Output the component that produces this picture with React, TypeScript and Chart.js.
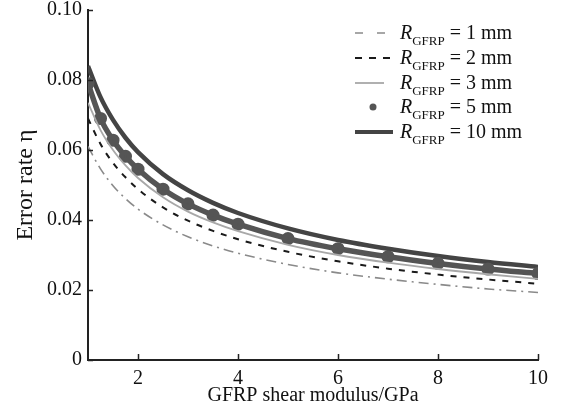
import React, { useEffect, useRef } from 'react';
import { Chart, registerables } from 'chart.js';

Chart.register(...registerables);

// GFRP shear modulus (GPa)
const shearModulus = [1, 1.25, 1.5, 1.75, 2, 2.5, 3, 3.5, 4, 5, 6, 7, 8, 9, 10];
// Error rate η for each GFRP radius
const eta1mm = [0.061, 0.0546, 0.0498, 0.0461, 0.0431, 0.0386, 0.0352, 0.0326, 0.0305, 0.0273, 0.0249, 0.0231, 0.0216, 0.0203, 0.0193];
const eta2mm = [0.069, 0.0617, 0.0563, 0.0522, 0.0488, 0.0436, 0.0398, 0.0369, 0.0345, 0.0309, 0.0282, 0.0261, 0.0244, 0.023, 0.0218];
const eta3mm = [0.0735, 0.0657, 0.06, 0.0556, 0.052, 0.0465, 0.0424, 0.0393, 0.0368, 0.0329, 0.03, 0.0278, 0.026, 0.0245, 0.0232];
const eta5mm = [0.079, 0.069, 0.0628, 0.0582, 0.0545, 0.0488, 0.0446, 0.0414, 0.0388, 0.0347, 0.0318, 0.0295, 0.0276, 0.026, 0.0247];
const eta10mm = [0.084, 0.0751, 0.0686, 0.0635, 0.0594, 0.0531, 0.0485, 0.0449, 0.042, 0.0376, 0.0343, 0.0318, 0.0297, 0.028, 0.0266];

const radiusLabels = ['1 mm', '2 mm', '3 mm', '5 mm', '10 mm'];
const xTicks = [2, 4, 6, 8, 10];
const yTicks = [0, 0.02, 0.04, 0.06, 0.08, 0.1];
const yTickLabels = ['0', '0.02', '0.04', '0.06', '0.08', '0.10'];
const xTitle = 'GFRP shear modulus/GPa';
const yTitle = 'Error rate η';

const FONT = '"Liberation Serif", "Times New Roman", serif';

const pts = (ys: number[]) => shearModulus.map((x, i) => ({ x, y: ys[i] }));

const inwardTicks = {
  id: 'inwardTicks',
  afterDatasetsDraw(chart: any) {
    const { ctx, chartArea, scales } = chart;
    ctx.save();
    ctx.strokeStyle = '#222';
    ctx.lineWidth = 1.5;
    ctx.beginPath();
    for (const v of yTicks) {
      const y = Math.round(scales.y.getPixelForValue(v)) + 0.5;
      ctx.moveTo(chartArea.left, y);
      ctx.lineTo(chartArea.left + 5, y);
    }
    for (const v of xTicks) {
      const x = Math.round(scales.x.getPixelForValue(v)) + 0.5;
      ctx.moveTo(x, chartArea.bottom);
      ctx.lineTo(x, chartArea.bottom - 6);
    }
    ctx.stroke();
    ctx.restore();
  },
};

function LegendSample({ i }: { i: number }) {
  const w = 42;
  if (i === 0)
    return (
      <svg width={w} height={10}>
        <line x1={3} y1={5} x2={40} y2={5} stroke="#8a8a8a" strokeWidth={1.6} strokeDasharray="8 14" />
      </svg>
    );
  if (i === 1)
    return (
      <svg width={w} height={10}>
        <line x1={3} y1={5} x2={40} y2={5} stroke="#1a1a1a" strokeWidth={2} strokeDasharray="7 7" />
      </svg>
    );
  if (i === 2)
    return (
      <svg width={w} height={10}>
        <line x1={3} y1={5} x2={32} y2={5} stroke="#a8a8a8" strokeWidth={1.8} />
      </svg>
    );
  if (i === 3)
    return (
      <svg width={w} height={10}>
        <circle cx={21} cy={5} r={3.5} fill="#555" />
      </svg>
    );
  return (
    <svg width={w} height={10}>
      <line x1={3} y1={5} x2={41} y2={5} stroke="#444" strokeWidth={4} />
    </svg>
  );
}

export default function App() {
  const canvasRef = useRef<HTMLCanvasElement | null>(null);

  useEffect(() => {
    if (!canvasRef.current) return;
    const chart = new Chart(canvasRef.current, {
      type: 'line',
      data: {
        datasets: [
          {
            label: radiusLabels[0],
            data: pts(eta1mm),
            borderColor: '#8a8a8a',
            borderWidth: 1.6,
            borderDash: [10, 5, 2, 5],
            pointRadius: 0,
            cubicInterpolationMode: 'monotone',
          },
          {
            label: radiusLabels[1],
            data: pts(eta2mm),
            borderColor: '#1a1a1a',
            borderWidth: 2,
            borderDash: [6, 7],
            pointRadius: 0,
            cubicInterpolationMode: 'monotone',
          },
          {
            label: radiusLabels[2],
            data: pts(eta3mm),
            borderColor: '#a8a8a8',
            borderWidth: 1.8,
            pointRadius: 0,
            cubicInterpolationMode: 'monotone',
          },
          {
            label: radiusLabels[3],
            data: pts(eta5mm),
            borderColor: '#555555',
            backgroundColor: '#555555',
            borderWidth: 5.5,
            pointRadius: 3.8,
            pointStyle: 'circle',
            cubicInterpolationMode: 'monotone',
          },
          {
            label: radiusLabels[4],
            data: pts(eta10mm),
            borderColor: '#444444',
            borderWidth: 4.5,
            pointRadius: 0,
            cubicInterpolationMode: 'monotone',
          },
        ],
      },
      options: {
        responsive: false,
        animation: false,
        devicePixelRatio: 1,
        layout: { padding: { top: 10, right: 25, left: 0, bottom: 0 } },
        plugins: { legend: { display: false }, tooltip: { enabled: false } },
        scales: {
          x: {
            type: 'linear',
            min: 1,
            max: 10,
            afterBuildTicks: (s: any) => {
              s.ticks = xTicks.map((v) => ({ value: v }));
            },
            afterFit: (s: any) => {
              s.height = 57;
              s.paddingLeft = 0;
              s.paddingRight = 0;
            },
            ticks: {
              color: '#111',
              font: { family: FONT, size: 20 },
              padding: 7,
              maxRotation: 0,
              callback: (v: any) => String(v),
            },
            grid: { display: true, drawOnChartArea: false, drawTicks: false },
            border: { display: true, color: '#222', width: 2 },
            title: {
              display: true,
              text: xTitle,
              color: '#111',
              font: { family: FONT, size: 20 },
              padding: { top: 0, bottom: 9 },
            },
          },
          y: {
            type: 'linear',
            min: 0,
            max: 0.1,
            afterBuildTicks: (s: any) => {
              s.ticks = yTicks.map((v) => ({ value: v }));
            },
            afterFit: (s: any) => {
              s.width = 88;
              s.paddingTop = 0;
              s.paddingBottom = 0;
            },
            ticks: {
              color: '#111',
              font: { family: FONT, size: 20 },
              padding: 6,
              callback: (v: any) => {
                const idx = yTicks.findIndex((t) => Math.abs(t - v) < 1e-9);
                return idx >= 0 ? yTickLabels[idx] : '';
              },
            },
            grid: { display: true, drawOnChartArea: false, drawTicks: false },
            border: { display: true, color: '#222', width: 2 },
            title: {
              display: true,
              text: yTitle,
              color: '#111',
              font: { family: FONT, size: 24 },
              padding: { top: 11, bottom: 0 },
            },
          },
        },
      },
      plugins: [inwardTicks],
    } as any);
    return () => chart.destroy();
  }, []);

  const rowCenters = [33, 58, 83, 107, 132];

  return (
    <div style={{ position: 'absolute', left: 0, top: 0, width: 563, height: 417, background: '#fff' }}>
      <canvas ref={canvasRef} width={563} height={417} style={{ display: 'block' }} />
      {radiusLabels.map((lab, i) => (
        <div
          key={lab}
          style={{
            position: 'absolute',
            left: 352,
            top: rowCenters[i] - 13,
            height: 26,
            display: 'flex',
            alignItems: 'center',
            fontFamily: FONT,
            fontSize: 20,
            color: '#111',
            whiteSpace: 'nowrap',
          }}
        >
          <LegendSample i={i} />
          <span style={{ marginLeft: 6, lineHeight: '26px' }}>
            <i>R</i>
            <span style={{ fontSize: 13, position: 'relative', top: 6 }}>GFRP</span>
            {' = ' + lab}
          </span>
        </div>
      ))}
    </div>
  );
}
